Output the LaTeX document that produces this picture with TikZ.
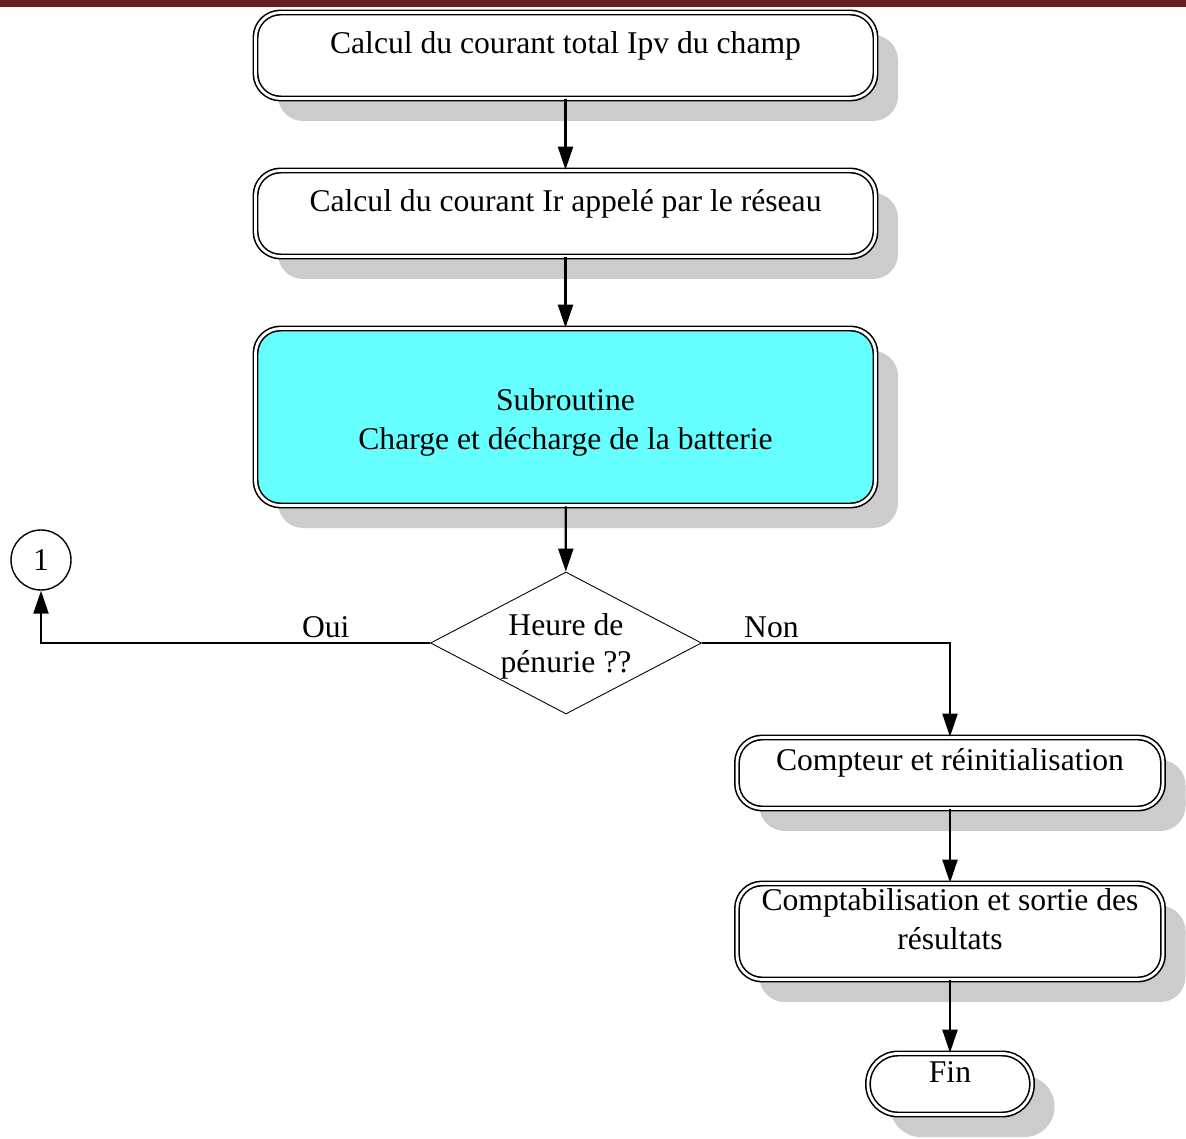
\documentclass[tikz,border=0pt]{standalone}
\usepackage{fontspec}
\setmainfont{Liberation Serif}
\usetikzlibrary{arrows.meta,shapes.geometric,shadows}
\definecolor{bandeau}{HTML}{66201F}
\definecolor{bleuciel}{HTML}{66FFFF}
\tikzset{
	boite/.style={draw,double,double distance=1.6pt,line width=0.9pt,rounded corners=0.5cm,fill=white,
		drop shadow={shadow xshift=0.45cm,shadow yshift=-0.45cm,fill=black!20,opacity=1}},
	texte/.style={font=\fontsize{18}{21}\selectfont,align=center,inner sep=0pt},
	fleche/.style={line width=1.2pt,-{Triangle[length=0.46cm,width=0.3cm]}},
}
\begin{document}
\begin{tikzpicture}
		\useasboundingbox (0,0) rectangle (23.72,-22.78);
		\fill[bandeau](0,0) rectangle (23.72,-0.14);
		% colonne principale
		\node[boite,minimum width=12.4cm,minimum height=1.72cm](b1) at(11.31,-1.11){};
		\node[texte](t1) at(11.31,-0.92){Calcul du courant total Ipv du champ};
		\node[boite,minimum width=12.4cm,minimum height=1.72cm](b2) at(11.31,-4.27){};
		\node[texte](t2) at(11.31,-4.08){Calcul du courant Ir appelé par le réseau};
		\node[boite,fill=bleuciel,minimum width=12.4cm,minimum height=3.54cm,texte,font=\fontsize{18}{22.5}\selectfont](b3) at(11.31,-8.34){\\[-0.14cm]Subroutine\\Charge et décharge de la batterie};
		\node[draw,diamond,aspect=1.9,line width=0.5pt,inner sep=0pt,minimum width=5.42cm,minimum height=2.84cm](d) at(11.32,-12.86){};
		\node[texte](td) at(11.32,-12.93){Heure de\\pénurie ??};
		\node[draw,circle,line width=0.8pt,minimum size=1.2cm,texte](c1) at(0.82,-11.2){1};
		% branche Non
		\node[boite,minimum width=8.52cm,minimum height=1.42cm](b4) at(19.0,-15.46){};
		\node[texte](t4) at(19.0,-15.26){Compteur et réinitialisation};
		\node[boite,minimum width=8.52cm,minimum height=1.92cm](b5) at(19.0,-18.63){};
		\node[texte,font=\fontsize{18}{22}\selectfont](t5) at(19.0,-18.38){Comptabilisation et sortie des\\résultats};
		\node[boite,rounded corners=0.6cm,minimum width=3.28cm,minimum height=1.22cm](fin) at(19.0,-21.68){};
		\node[texte](t6) at(19.0,-21.44){Fin};
		% liaisons
		\draw[fleche](b1)--(b2);
		\draw[fleche](b2)--(b3);
		\draw[fleche](b3)--(d);
		\draw[fleche](d.west)-|node[texte,above=0.08cm,pos=0.134]{Oui}(c1.south);
		\draw[fleche](d.east)-|node[texte,above=0.08cm,pos=0.14]{Non}(b4.north);
		\draw[fleche](b4)--(b5);
		\draw[fleche](b5)--(fin);
		\end{tikzpicture}
\end{document}
